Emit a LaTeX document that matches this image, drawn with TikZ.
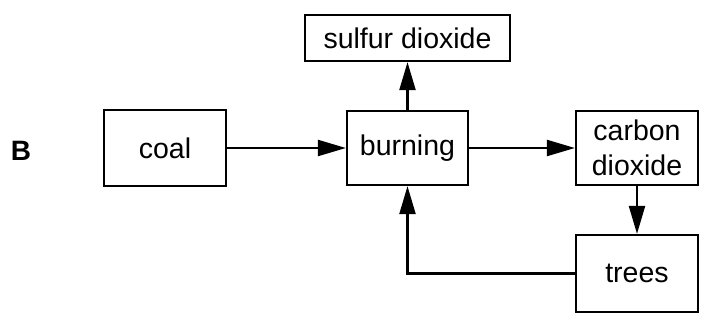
\documentclass[tikz,border=0pt]{standalone}
\usepackage{fontspec}
\setmainfont{Liberation Sans}
\usetikzlibrary{arrows.meta}
\begin{document}
\begin{tikzpicture}[x=1pt,y=-1pt,
  box/.style={draw, line width=2.2pt, inner sep=0pt, align=center,
    font=\fontsize{28.5}{35}\selectfont},
  conn/.style={line width=2.2pt, -{Triangle[length=28pt,width=16pt]}}]
\useasboundingbox (0,0) rectangle (705,322);
\node[font=\bfseries\fontsize{28}{34}\selectfont] (B) at (21,151) {B};
\node[box, minimum width=122pt, minimum height=76pt] (coal) at (165,148) {coal};
\node[box, minimum width=121pt, minimum height=74pt] (burning) at (407.5,148) {burning};
\node[box, minimum width=205pt, minimum height=46pt] (sulfur) at (407.5,38) {sulfur dioxide};
\node[box, minimum width=122pt, minimum height=74pt] (carbon) at (637,148) {carbon\\dioxide};
\node[box, minimum width=122pt, minimum height=77pt] (trees) at (637,273.5) {trees};
\draw[conn] (coal) -- (burning);
\draw[conn] (burning) -- (carbon);
\draw[conn] (burning) -- (sulfur);
\draw[conn] (carbon) -- (trees);
\draw[conn] (trees.west) -| (burning.south);
\end{tikzpicture}
\end{document}
